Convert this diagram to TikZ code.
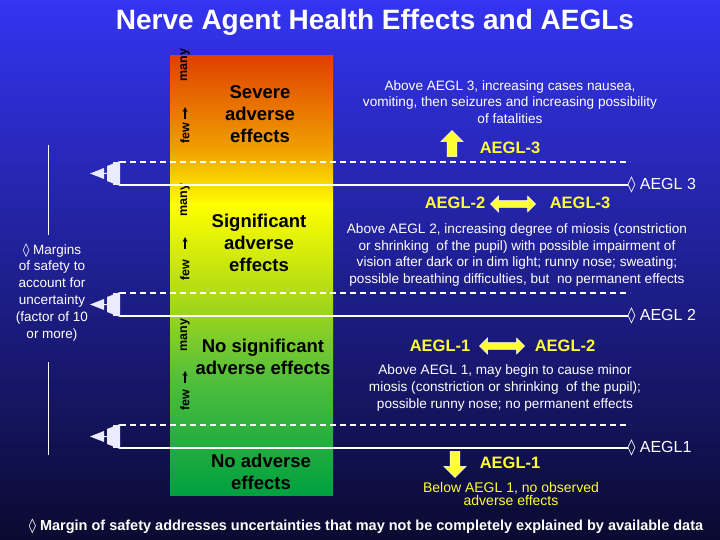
\documentclass[tikz,border=0pt]{standalone}
\usepackage{fontspec}
\setmainfont{Liberation Sans}
\newfontfamily\djvfont{DejaVu Sans}
\usetikzlibrary{shapes.arrows}
\definecolor{bgtop}{HTML}{3434F2}
\definecolor{bgbot}{HTML}{0A0A30}
\definecolor{ylw}{HTML}{FFFF33}
\newcommand{\dmd}{{\djvfont\char"25CA}}
\tikzset{
 bt/.style={font=\bfseries\fontsize{18.5}{22}\selectfont, align=center, text=black},
 fm/.style={font=\bfseries\fontsize{12.5}{13}\selectfont, rotate=90, text=black},
 para/.style={font=\fontsize{13.6}{16.7}\selectfont, align=center, text=white},
 ay/.style={font=\bfseries\fontsize{16.5}{18}\selectfont, text=ylw},
 lev/.style={font=\fontsize{16}{18}\selectfont, text=white},
 dl/.style={white, line width=1.2pt, dash pattern=on 6pt off 4pt},
 sl/.style={white, line width=2.5pt},
 dbl/.style={double arrow, fill=ylw, draw=white, line width=0.5pt, minimum height=45pt, minimum width=16pt, double arrow head extend=3pt, inner sep=2pt},
 blk/.style={single arrow, fill=ylw, draw=white, line width=0.5pt, minimum height=26pt, minimum width=22pt, single arrow head extend=4pt, inner sep=3pt}
}
\begin{document}
\begin{tikzpicture}[x=1pt,y=-1pt]
\useasboundingbox (0,0) rectangle (720,540);
\shade[top color=bgtop, bottom color=bgbot] (0,0) rectangle (720,540);
% column
\shade[top color={rgb,255:red,224;green,64;blue,0}, bottom color={rgb,255:red,240;green,160;blue,0}] (170,56) rectangle (333,150);
\shade[top color={rgb,255:red,240;green,160;blue,0}, bottom color={rgb,255:red,255;green,255;blue,0}] (170,149.5) rectangle (333,205);
\shade[top color={rgb,255:red,255;green,255;blue,0}, bottom color={rgb,255:red,180;green,220;blue,20}] (170,204.5) rectangle (333,290);
\shade[top color={rgb,255:red,180;green,220;blue,20}, bottom color={rgb,255:red,80;green,190;blue,60}] (170,289.5) rectangle (333,380);
\shade[top color={rgb,255:red,80;green,190;blue,60}, bottom color={rgb,255:red,0;green,160;blue,64}] (170,379.5) rectangle (333,495);
\node[font=\bfseries\fontsize{28}{30}\selectfont, text=white] (title) at (375,22) {Nerve Agent Health Effects and AEGLs};
% few/many
\foreach \n/\f/\a/\m in {a/133/113/65, b/270/243/200, c/400/377/335}{
 \node[fm] (few\n) at (185,\f) {few};
 \node[fm] (man\n) at (185,\m) {many};
 \draw[->, black, line width=1.2pt, >=stealth] (185,\a+6) -- (185,\a-6);
}
\node[bt] (s1) at (260,114) {Severe\\adverse\\effects};
\node[bt] (s2) at (259,243) {Significant\\adverse\\effects};
\node[bt] (s3) at (263,357) {No significant\\adverse effects};
\node[bt] (s4) at (261,472) {No adverse\\effects};
% lines
\foreach \d/\s in {162/185, 293/316, 425/448}{
 \draw[dl] (120,\d) -- (630,\d);
 \draw[sl] (120,\s) -- (628,\s);
 \fill[white!92!blue] (113,\d) rectangle (119,\s);
 \fill[white!92!blue] (120,\d-1) -- (107,\d+4) -- (107,\s-4) -- (120,\s+1) -- cycle;
 \fill[white!92!blue] (90,{(\d+\s)/2}) -- (104,\d+6) -- (104,\d+11) -- (112,\d+11) -- (112,\s-11) -- (104,\s-11) -- (104,\s-6) -- cycle;
}
\draw[white, line width=0.8pt] (48,145) -- (48,235);
\draw[white, line width=0.8pt] (48,362) -- (48,455);
\node[font=\fontsize{13.5}{16.8}\selectfont, align=center, text=white] (marg) at (52,292) {\dmd\ Margins\\of safety to\\account for\\uncertainty\\(factor of 10\\or more)};
% right side
\node[para] (p3) at (510,102) {Above AEGL 3, increasing cases nausea,\\vomiting, then seizures and increasing possibility\\of fatalities};
\node[blk, rotate=90] (up) at (452,146) {};
\node[ay] (a3) at (510,148) {AEGL-3};
\node[lev, anchor=west] (l3) at (624,185) {\dmd\ AEGL 3};
\node[ay] (b2) at (455,203) {AEGL-2};
\node[dbl] (d1) at (513,204) {};
\node[ay] (b3) at (580,203) {AEGL-3};
\node[para] (p2) at (517,255) {Above AEGL 2, increasing degree of miosis (constriction\\or shrinking\ \ of the pupil) with possible impairment of\\vision after dark or in dim light; runny nose; sweating;\\possible breathing difficulties, but\ \ no permanent effects};
\node[lev, anchor=west] (l2) at (624,316) {\dmd\ AEGL 2};
\node[ay] (c1) at (440,346) {AEGL-1};
\node[dbl] (d2) at (502,346) {};
\node[ay] (c2) at (565,346) {AEGL-2};
\node[para] (p1) at (505,388) {Above AEGL 1, may begin to cause minor\\miosis (constriction or shrinking\ \ of the pupil);\\possible runny nose; no permanent effects};
\node[lev, anchor=west] (l1) at (624,448) {\dmd\ AEGL1};
\node[blk, rotate=-90] (dn) at (455,462) {};
\node[ay] (e1) at (510,463) {AEGL-1};
\node[para, text=ylw, font=\fontsize{14}{13}\selectfont] (p0) at (511,494) {Below AEGL 1, no observed\\adverse effects};
\node[font=\bfseries\fontsize{14.5}{16}\selectfont, text=white] (foot) at (366,526) {\dmd\ Margin of safety addresses uncertainties that may not be completely explained by available data};
\end{tikzpicture}
\end{document}
